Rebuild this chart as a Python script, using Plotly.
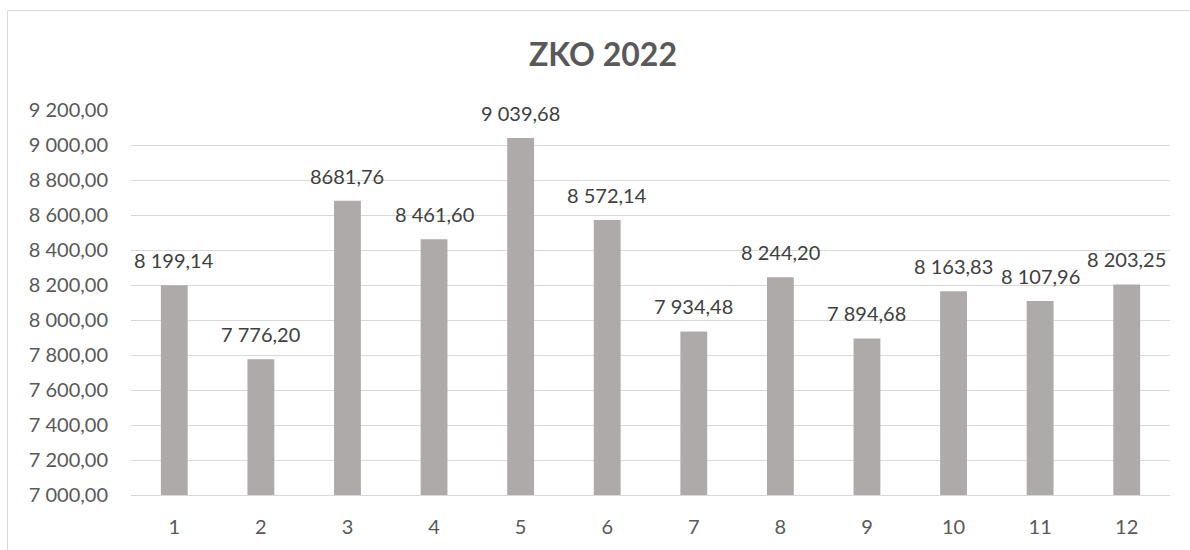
import plotly.graph_objects as go

months = ["1", "2", "3", "4", "5", "6", "7", "8", "9", "10", "11", "12"]
values = [8199.14, 7776.20, 8681.76, 8461.60, 9039.68, 8572.14,
          7934.48, 8244.20, 7894.68, 8163.83, 8107.96, 8203.25]
value_labels = ["8 199,14", "7 776,20", "8681,76", "8 461,60", "9 039,68", "8 572,14",
                "7 934,48", "8 244,20", "7 894,68", "8 163,83", "8 107,96", "8 203,25"]
y_ticks = [7000, 7200, 7400, 7600, 7800, 8000, 8200, 8400, 8600, 8800, 9000, 9200]
title_text = "ZKO 2022"

FONT = "Lato, 'Open Sans', sans-serif"
TXT = "#595959"
GRID = "#D9D9D9"

fig = go.Figure()
fig.add_trace(go.Bar(
    x=months, y=values,
    marker=dict(color="#AEAAAA", line=dict(width=0)),
    hoverinfo="x+y",
))

for i, (v, t) in enumerate(zip(values, value_labels)):
    fig.add_annotation(x=i, y=v, text=t, showarrow=False,
                       xanchor="center", yanchor="middle", yshift=25,
                       font=dict(family=FONT, size=20, color="#404040"))

W, H = 1190, 550
L, R, T, B = 131, 20, 110, 55
pw, ph = W - L - R, H - T - B

def px2x(p):
    return (p - L) / pw

def py2y(p):
    return (H - B - p) / ph

fig.add_shape(type="rect", xref="paper", yref="paper",
              x0=px2x(7.5), x1=px2x(1200), y0=py2y(560), y1=py2y(10.5),
              line=dict(color=GRID, width=1), fillcolor="rgba(0,0,0,0)", layer="below")

fig.update_layout(
    width=W, height=H,
    margin=dict(l=L, r=R, t=T, b=B),
    paper_bgcolor="white", plot_bgcolor="white",
    separators=", ",
    bargap=0.69,
    showlegend=False,
    title=dict(text="<b>" + title_text + "</b>", x=603 / W, xanchor="center",
               y=1 - 55 / H, yanchor="middle",
               font=dict(family=FONT, size=32, color=TXT)),
    font=dict(family=FONT, size=20, color=TXT),
)
fig.layout.title.xref = "container"
fig.layout.title.yref = "container"

fig.update_xaxes(
    type="category", showgrid=False, zeroline=False,
    showline=True, linecolor=GRID, linewidth=1,
    ticks="", ticklabelstandoff=14,
    tickfont=dict(family=FONT, size=20, color=TXT),
)
fig.update_yaxes(
    range=[7000, 9200], tickvals=y_ticks, tickformat=",.2f",
    showgrid=True, gridcolor=GRID, gridwidth=1, zeroline=False,
    showline=False, ticks="", ticklabelstandoff=22,
    tickfont=dict(family=FONT, size=20, color=TXT),
)

fig.write_html("out.html",
               config={"displayModeBar": False},
               post_script="document.body.style.margin='0';document.body.style.overflow='hidden';")
